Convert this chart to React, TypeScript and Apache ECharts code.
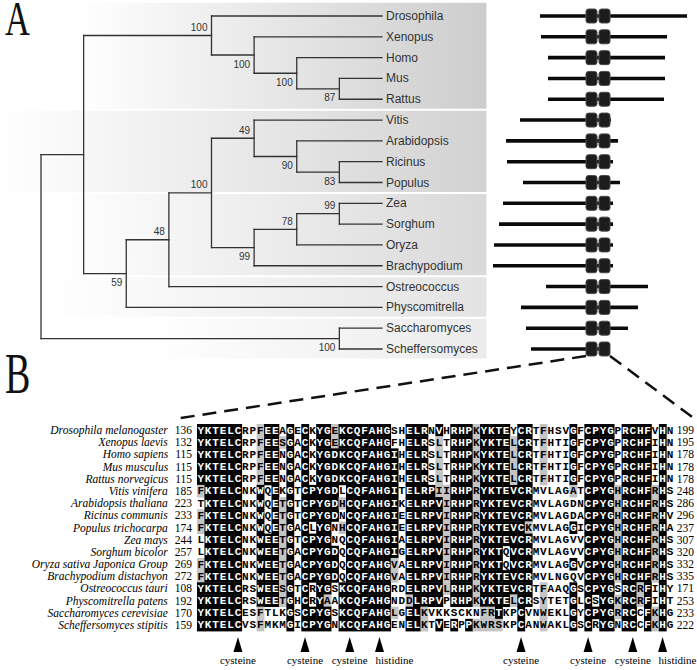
import React, { useEffect, useRef } from 'react';
import * as echarts from 'echarts';

// ---------- Panel A: tree ----------
const taxa = ['Drosophila', 'Xenopus', 'Homo', 'Mus', 'Rattus', 'Vitis', 'Arabidopsis', 'Ricinus', 'Populus', 'Zea', 'Sorghum', 'Oryza', 'Brachypodium', 'Ostreococcus', 'Physcomitrella', 'Saccharomyces', 'Scheffersomyces'];
const taxonParent = ['animals', 'a2', 'a3', 'a4', 'a4', 'dicot', 'd2', 'd3', 'd3', 'm3', 'm3', 'm2', 'mono', 'n3', 'n2', 'yeast', 'yeast'];

const nodeIds = ['root', 'n1', 'animals', 'a2', 'a3', 'a4', 'n2', 'n3', 'land', 'dicot', 'd2', 'd3', 'mono', 'm2', 'm3', 'yeast'];
const nodeParents = [null, 'root', 'n1', 'animals', 'a2', 'a3', 'n1', 'n2', 'n3', 'land', 'dicot', 'd2', 'land', 'mono', 'm2', 'root'];
const nodeDepth = [0, 1, 4, 5, 6, 7, 2, 3, 4, 5, 6, 7, 5, 6, 7, 7];
const nodeSupport = [0, 0, 100, 100, 100, 87, 59, 48, 100, 49, 90, 83, 99, 78, 99, 100];
const supportBelow = ['a2', 'a3', 'a4', 'n2', 'd2', 'd3', 'mono', 'yeast'];
const leafDepth = 8;

const cladeBands = [[0, 4], [5, 8], [9, 12], [13, 14], [15, 16]];
const bandColors = ['#cdcdcd', '#d2d2d2', '#d9d9d9', '#e3e3e3', '#ebebeb'];
const bandFadeStart = [0.16, 0.0, 0.12, 0.1, 0.3];

// protein architecture, positions relative to the zinc-finger domain start
const proteinStart = [-46, -45, -38, -38, -38, -66, -80, -79, -63, -83, -87, -92, -93, -40, -65, -60, -55];
const proteinEnd = [101, 81, 79, 79, 78, 25, 32, 27, 34, 27, 27, 27, 27, 62, 52, 42, 24];
const znfDomains = [[0, 11], [13, 24]];

// ---------- Panel B: alignment ----------
const species = ['Drosophila melanogaster', 'Xenopus laevis', 'Homo sapiens', 'Mus musculus', 'Rattus norvegicus', 'Vitis vinifera', 'Arabidopsis thaliana', 'Ricinus communis', 'Populus trichocarpa', 'Zea mays', 'Sorghum bicolor', 'Oryza sativa Japonica Group', 'Brachypodium distachyon', 'Ostreococcus tauri', 'Physcomitrella patens', 'Saccharomyces cerevisiae', 'Scheffersomyces stipitis'];
const seqStart = [136, 132, 115, 115, 115, 185, 223, 233, 174, 244, 257, 269, 272, 108, 192, 170, 159];
const seqEnd = [199, 195, 178, 178, 178, 248, 286, 296, 237, 307, 320, 332, 335, 171, 253, 233, 222];
const sequences = [
  'YKTELCRPFEEAGECKYGEKCQFAHGSHELRNVHRHPKYKTEYCRTFHSVGFCPYGPRCHFVHN',
  'YKTELCRPFEESGACKYGEKCQFAHGFHELRSLTRHPKYKTELCRTFHTIGFCPYGPRCHFIHN',
  'YKTELCRPFEENGACKYGDKCQFAHGIHELRSLTRHPKYKTELCRTFHTIGFCPYGPRCHFIHN',
  'YKTELCRPFEENGACKYGDKCQFAHGIHELRSLTRHPKYKTELCRTFHTIGFCPYGPRCHFIHN',
  'YKTELCRPFEENGACKYGDKCQFAHGIHELRSLTRHPKYKTELCRTFHTIGFCPYGPRCHFIHN',
  'FKTELCNKWQEKGTCPYGDLCQFAHGITELRPIIRHPRYKTEVCRMVLAGATCPYGHRCHFRHS',
  'TKTELCNKWQETGTCPYGDHCQFAHGIKELRPVIRHPRYKTEVCRMVLAGDNCPYGHRCHFRHS',
  'FKTELCNKWQETGTCPYGDNCQFAHGIEELRPVIRHPRYKTEVCRMVLAGDACPYGHRCHFRHV',
  'FKTELCNKWQETGACLYGNHCQFAHGIEELRPVIRHPRYKTEVCKMVLAGGICPYGHRCHFRHA',
  'LKTELCNKWEETGTCPYGNQCQFAHGIAELRPVIRHPRYKTEVCRMVLAGVVCPYGHRCHFRHS',
  'LKTELCNKWEETGACPYGDQCQFAHGIGELRPVIRHPRYKTQVCRMVLAGVVCPYGHRCHFRHS',
  'FKTELCNKWEETGACPYGDQCQFAHGVAELRPVIRHPRYKTQVCRMVLAGGVCPYGHRCHFRHS',
  'FKTELCNKWEETGACPYGDQCQFAHGVAELRPVIRHPRYKTEVCRMVLNGQVCPYGHRCHFRHS',
  'YKTELCRSWEESGTCRYGSKCQFAHGRDELRPVLRHPKYKTEVCRTFAAQGSCPYGSRCRFIHY',
  'YKTELCRSWEETGHCRYAAKCQFAHGNDDLRPVPRHPKYKTELCRSYTETGLCSYGKRCRFIHT',
  'YKTELCESFTLKGSCPYGSKCQFAHGLGELKVKKSCKNFRTKPCVNWEKLGYCPYGRRCCFKHG',
  'YKTELCVSFMKMGICPYGNKCQFAHGENELKTVERPPKWRSKPCANWAKLGSCRYGNRCCFKHG',
];
const markerCols = [6, 15, 21, 25, 44, 53, 59, 63];
const markerLabels = ['cysteine', 'cysteine', 'cysteine', 'histidine', 'cysteine', 'cysteine', 'cysteine', 'histidine'];
const markerLabelAlign = ['center', 'center', 'center', 'left', 'center', 'center', 'center', 'left'];

const simGroups = ['FYW', 'ILVM', 'RKH', 'DE', 'ST', 'NQ', 'AG'];

function similar(a: string, b: string) {
  if (a === b) return true;
  return simGroups.some((g) => g.includes(a) && g.includes(b));
}

// BoxShade-style conservation shading: 2 = identical (black), 1 = similar (grey), 0 = none
function shadeColumn(col: string[]): number[] {
  const n = col.length;
  const thr = 0.5 * n;
  const uniq = Array.from(new Set(col));
  let best = uniq[0], bestId = -1, bestSim = -1;
  for (const r of uniq) {
    const id = col.filter((x) => x === r).length;
    const sim = col.filter((x) => similar(x, r)).length;
    if (id > bestId || (id === bestId && sim > bestSim)) { best = r; bestId = id; bestSim = sim; }
  }
  if (bestId >= thr) return col.map((x) => (x === best ? 2 : similar(x, best) ? 1 : 0));
  let bs = uniq[0], bsSim = -1;
  for (const r of uniq) {
    const sim = col.filter((x) => similar(x, r)).length;
    if (sim > bsSim) { bs = r; bsSim = sim; }
  }
  if (bsSim >= thr) return col.map((x) => (similar(x, bs) ? 1 : 0));
  return col.map(() => 0);
}

export default function App() {
  const ref = useRef<HTMLDivElement>(null);

  useEffect(() => {
    document.body.style.margin = '0';
    const chart = echarts.init(ref.current!, null, { renderer: 'svg' });

    // ---- tree layout ----
    const yOf: Record<string, number> = {};
    const children: Record<string, string[]> = {};
    nodeIds.forEach((id) => (children[id] = []));
    taxa.forEach((t, i) => { yOf['leaf:' + t] = i; children[taxonParent[i]].push('leaf:' + t); });
    nodeIds.forEach((id, i) => { const p = nodeParents[i]; if (p) children[p].push(id); });
    const depthOf: Record<string, number> = {};
    nodeIds.forEach((id, i) => (depthOf[id] = nodeDepth[i]));
    taxa.forEach((t) => (depthOf['leaf:' + t] = leafDepth));
    const computeY = (id: string): number => {
      if (id in yOf) return yOf[id];
      const ys = children[id].map(computeY);
      const y = (Math.min(...ys) + Math.max(...ys)) / 2;
      yOf[id] = y;
      return y;
    };
    computeY('root');
    const parentOf: Record<string, string> = {};
    taxa.forEach((t, i) => (parentOf['leaf:' + t] = taxonParent[i]));
    nodeIds.forEach((id, i) => { if (nodeParents[i]) parentOf[id] = nodeParents[i] as string; });

    const segments: number[][] = [];
    Object.keys(parentOf).forEach((id) => {
      segments.push([depthOf[parentOf[id]], yOf[id], depthOf[id], yOf[id]]);
    });
    nodeIds.forEach((id) => {
      const ys = children[id].map((c) => yOf[c]);
      segments.push([depthOf[id], Math.min(...ys), depthOf[id], Math.max(...ys)]);
    });

    const supportData = nodeIds
      .map((id, i) => [nodeDepth[i], yOf[id], nodeSupport[i], supportBelow.includes(id) ? 1 : 0])
      .filter((d) => d[2] > 0);

    // ---- alignment cells ----
    const nCols = sequences[0].length;
    const shades: number[][] = sequences.map(() => []);
    for (let c = 0; c < nCols; c++) {
      const col = sequences.map((s) => s[c]);
      const sh = shadeColumn(col);
      sh.forEach((v, r) => (shades[r][c] = v));
    }
    const cellData: number[][] = [];
    const cellInfo: { ch: string; shade: number }[] = [];
    sequences.forEach((s, r) => {
      for (let c = 0; c < s.length; c++) {
        cellData.push([c, r]);
        cellInfo.push({ ch: s[c], shade: shades[r][c] });
      }
    });

    const treeColor = '#333333';

    const option: any = {
      animation: false,
      backgroundColor: '#ffffff',
      grid: [
        { left: 41, top: 16, width: 341, height: 333 },
        { left: 486, top: 16, width: 211, height: 333 },
        { left: 197, top: 424, width: 477, height: 207 },
      ],
      xAxis: [
        { gridIndex: 0, type: 'value', min: 0, max: 8, show: false },
        { gridIndex: 1, type: 'value', min: -100, max: 111, show: false },
        { gridIndex: 2, type: 'value', min: 0, max: nCols, show: false },
      ],
      yAxis: [
        { gridIndex: 0, type: 'value', min: 0, max: taxa.length - 1, inverse: true, show: false },
        { gridIndex: 1, type: 'value', min: 0, max: taxa.length - 1, inverse: true, show: false },
        {
          gridIndex: 2, type: 'category', data: species, inverse: true,
          axisLine: { show: false }, axisTick: { show: false }, splitLine: { show: false },
          axisLabel: {
            interval: 0, margin: 5,
            formatter: (v: string, i: number) => `{n|${v}}{s|${seqStart[i]}}`,
            rich: {
              n: { fontFamily: 'Liberation Serif', fontStyle: 'italic', fontSize: 11.5, lineHeight: 11, color: '#000' },
              s: { fontFamily: 'Liberation Serif', fontSize: 11.5, lineHeight: 11, color: '#000', padding: [0, 0, 0, 7] },
            },
          },
        },
        {
          gridIndex: 2, type: 'category', data: seqEnd.map(String), inverse: true, position: 'right',
          axisLine: { show: false }, axisTick: { show: false }, splitLine: { show: false },
          axisLabel: { interval: 0, margin: 3, fontFamily: 'Liberation Serif', fontSize: 11.5, lineHeight: 11, color: '#000' },
        },
      ],
      series: [
        // clade background bands
        {
          type: 'custom', xAxisIndex: 0, yAxisIndex: 0, clip: false, silent: true, z: 1,
          data: cladeBands.map((b, i) => [b[0], b[1], i]),
          renderItem: (params: any, api: any) => {
            const i = params.dataIndex;
            const p0 = api.coord([-1.2, api.value(0) - (i === 0 ? 0.68 : 0.5)]);
            const p1 = api.coord([10.45, api.value(1) + 0.5]);
            return {
              type: 'rect',
              shape: { x: 0, y: p0[1] + 1, width: p1[0], height: p1[1] - p0[1] - 2 },
              style: {
                fill: new echarts.graphic.LinearGradient(0, 0, 1, 0, [
                  { offset: 0, color: '#ffffff' },
                  { offset: bandFadeStart[i], color: '#ffffff' },
                  { offset: 1, color: bandColors[i] },
                ]),
              },
            };
          },
        },
        // tree branches
        {
          type: 'custom', xAxisIndex: 0, yAxisIndex: 0, clip: false, silent: true,
          data: segments,
          renderItem: (params: any, api: any) => {
            const a = api.coord([api.value(0), api.value(1)]);
            const b = api.coord([api.value(2), api.value(3)]);
            return {
              type: 'line',
              shape: { x1: a[0], y1: a[1], x2: b[0], y2: b[1] },
              style: { stroke: treeColor, lineWidth: 1.3, lineCap: 'square' },
            };
          },
        },
        // leaf labels
        {
          type: 'custom', xAxisIndex: 0, yAxisIndex: 0, clip: false, silent: true,
          data: taxa.map((t, i) => [leafDepth, i]),
          renderItem: (params: any, api: any) => {
            const p = api.coord([api.value(0), api.value(1)]);
            return {
              type: 'text',
              style: {
                text: taxa[params.dataIndex], x: p[0] + 4, y: p[1],
                align: 'left', verticalAlign: 'middle',
                font: '12px "Liberation Sans", Arial, sans-serif', fill: '#333',
              },
            };
          },
        },
        // bootstrap support
        {
          type: 'custom', xAxisIndex: 0, yAxisIndex: 0, clip: false, silent: true,
          data: supportData,
          renderItem: (params: any, api: any) => {
            const p = api.coord([api.value(0), api.value(1)]);
            const below = api.value(3) === 1;
            return {
              type: 'text',
              style: {
                text: String(api.value(2)), x: p[0] - 4, y: p[1] + (below ? 9 : -8),
                align: 'right', verticalAlign: 'middle',
                font: '10px "Liberation Sans", Arial, sans-serif', fill: '#333',
              },
            };
          },
        },
        // protein architecture
        {
          type: 'custom', xAxisIndex: 1, yAxisIndex: 1, clip: false, silent: true,
          data: taxa.map((t, i) => [proteinStart[i], i, proteinEnd[i]]),
          encode: { x: [0, 2], y: 1 },
          renderItem: (params: any, api: any) => {
            const a = api.coord([api.value(0), api.value(1)]);
            const b = api.coord([api.value(2), api.value(1)]);
            const kids: any[] = [
              { type: 'rect', shape: { x: a[0], y: a[1] - 1.8, width: b[0] - a[0], height: 3.6 }, style: { fill: '#0a0a0a' } },
            ];
            znfDomains.forEach((d) => {
              const d0 = api.coord([d[0], api.value(1)]);
              const d1 = api.coord([d[1], api.value(1)]);
              kids.push({
                type: 'rect',
                shape: { x: d0[0], y: d0[1] - 7, width: d1[0] - d0[0], height: 14, r: 2.5 },
                style: { fill: '#1c1c1c', stroke: '#4a4a4a', lineWidth: 1 },
              });
            });
            return { type: 'group', children: kids };
          },
        },
        // alignment cells
        {
          type: 'custom', xAxisIndex: 2, yAxisIndex: 2, clip: false, silent: true,
          data: cellData,
          renderItem: (params: any, api: any) => {
            const info = cellInfo[params.dataIndex];
            const p = api.coord([api.value(0), api.value(1)]);
            const sz = api.size([1, 1]);
            const w = sz[0], h = sz[1];
            const kids: any[] = [];
            if (info.shade > 0) {
              kids.push({
                type: 'rect',
                shape: { x: p[0], y: p[1] - h / 2, width: w + 0.4, height: h + 0.4 },
                style: { fill: info.shade === 2 ? '#000000' : '#c4c4c4' },
              });
            }
            kids.push({
              type: 'text',
              style: {
                text: info.ch, x: p[0] + w / 2, y: p[1] + 0.5,
                align: 'center', verticalAlign: 'middle',
                font: 'bold 11px "Liberation Mono", "Courier New", monospace',
                fill: info.shade === 2 ? '#ffffff' : '#000000',
              },
            });
            return { type: 'group', children: kids };
          },
        },
        // residue markers
        {
          type: 'custom', xAxisIndex: 2, yAxisIndex: 2, clip: false, silent: true,
          data: markerCols.map((c) => [c - 0.5, sequences.length - 1]),
          renderItem: (params: any, api: any) => {
            const p = api.coord([api.value(0), api.value(1)]);
            const h = api.size([1, 1])[1];
            const bottom = p[1] + h / 2;
            const x = p[0];
            const al = markerLabelAlign[params.dataIndex];
            return {
              type: 'group',
              children: [
                { type: 'polygon', shape: { points: [[x, bottom + 6], [x - 4.5, bottom + 21], [x + 4.5, bottom + 21]] }, style: { fill: '#000' } },
                {
                  type: 'text',
                  style: {
                    text: markerLabels[params.dataIndex], x: al === 'left' ? x - 4 : x, y: bottom + 29,
                    align: al, verticalAlign: 'middle',
                    font: '11px "Liberation Serif", serif', fill: '#000',
                  },
                },
              ],
            };
          },
        },
      ],
    };

    chart.setOption(option);

    const last = taxa.length - 1;
    const dL = chart.convertToPixel({ gridIndex: 1 } as any, [znfDomains[0][0], last]) as number[];
    const dR = chart.convertToPixel({ gridIndex: 1 } as any, [znfDomains[1][1], last]) as number[];
    const aL = chart.convertToPixel({ xAxisIndex: 2, yAxisIndex: 2 } as any, [0, 0]) as number[];
    const aR = chart.convertToPixel({ xAxisIndex: 2, yAxisIndex: 2 } as any, [nCols, 0]) as number[];
    const dash = { stroke: '#111', lineWidth: 2.5, lineDash: [14, 8] };

    chart.setOption({
      graphic: [
        {
          id: 'A', type: 'text', x: 5, y: 19, scaleX: 0.72, z: 100,
          style: { text: 'A', x: 0, y: 0, align: 'left', verticalAlign: 'middle', lineHeight: 34, font: '48px "Liberation Serif", serif', fill: '#111' },
        },
        {
          id: 'B', type: 'text', x: 5, y: 374, scaleX: 0.68, z: 100,
          style: { text: 'B', x: 0, y: 0, align: 'left', verticalAlign: 'middle', lineHeight: 38, font: '56px "Liberation Serif", serif', fill: '#111' },
        },
        { id: 'dashL', type: 'line', z: 100, shape: { x1: dL[0], y1: dL[1] + 7, x2: aL[0] - 17, y2: aL[1] - 12 }, style: dash },
        { id: 'dashR', type: 'line', z: 100, shape: { x1: dR[0], y1: dR[1] + 7, x2: aR[0] + 20, y2: aR[1] - 12 }, style: dash },
      ],
    });

    return () => chart.dispose();
  }, []);

  return <div ref={ref} style={{ position: 'fixed', left: 0, top: 0, width: 697, height: 670 }} />;
}
